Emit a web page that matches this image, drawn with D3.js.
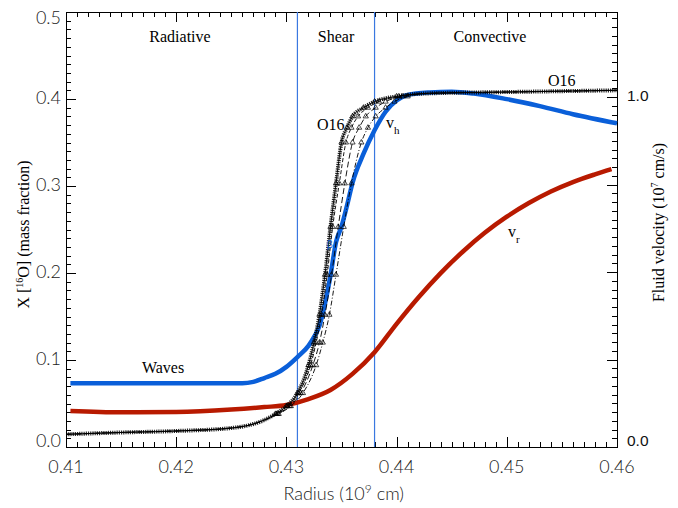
<!DOCTYPE html>
<html>
<head>
<meta charset="utf-8">
<script src="https://cdn.jsdelivr.net/npm/d3@7"></script>
<style>
body { margin: 0; background: #fff; }
svg { display: block; }
.num { font-family: Lato, "DejaVu Sans", sans-serif; font-weight: 300; font-size: 18px; fill: #222; }
.num-r { font-family: "Liberation Sans", Arial, sans-serif; font-size: 15.5px; fill: #111; }
.serif { font-family: "Liberation Serif", "Times New Roman", serif; fill: #000; }
</style>
</head>
<body>
<svg id="chart" width="678" height="508"></svg>
<script>
// tick labels
const radiusTicks = [0.41, 0.42, 0.43, 0.44, 0.45, 0.46];
const o16Ticks = [0.0, 0.1, 0.2, 0.3, 0.4, 0.5];
const velTicks = [0.0, 1.0];
const velMajor = [0.0, 0.25, 0.5, 0.75, 1.0];

// zone boundaries (radius, 1e9 cm)
const zoneBounds = [0.431, 0.438];

// O16 mass fraction, four runs (solid, dashed, long dash, dash-dot)
const o16Frac = [0.0146, 0.0167, 0.0184, 0.0218, 0.0264, 0.031, 0.038, 0.047, 0.062, 0.094, 0.120, 0.152, 0.198, 0.253, 0.303, 0.350, 0.367, 0.380, 0.390, 0.397, 0.403, 0.4065, 0.408, 0.409, 0.410];
const o16RadiusA = [0.4100, 0.4150, 0.4200, 0.4250, 0.4270, 0.4280, 0.4290, 0.4300, 0.4310, 0.4320, 0.4325, 0.4330, 0.4335, 0.4340, 0.4345, 0.4350, 0.4355, 0.4360, 0.4370, 0.4380, 0.4400, 0.4430, 0.4500, 0.4550, 0.4600];
const o16RadiusB = [0.4100, 0.4150, 0.4200, 0.4250, 0.4270, 0.4280, 0.4291, 0.4301, 0.4311, 0.4322, 0.4327, 0.4332, 0.4337, 0.4342, 0.4348, 0.4354, 0.4359, 0.4365, 0.4374, 0.4384, 0.4402, 0.4430, 0.4500, 0.4550, 0.4600];
const o16RadiusC = [0.4100, 0.4150, 0.4200, 0.4250, 0.4270, 0.4280, 0.4292, 0.4303, 0.4313, 0.4324, 0.4330, 0.4335, 0.4341, 0.4347, 0.4353, 0.4360, 0.4366, 0.4372, 0.4381, 0.4390, 0.4405, 0.4430, 0.4500, 0.4550, 0.4600];
const o16RadiusD = [0.4100, 0.4150, 0.4200, 0.4250, 0.4270, 0.4280, 0.4293, 0.4304, 0.4315, 0.4327, 0.4333, 0.4339, 0.4345, 0.4352, 0.4359, 0.4368, 0.4374, 0.4381, 0.4390, 0.4398, 0.4410, 0.4430, 0.4500, 0.4550, 0.4600];

// horizontal velocity v_h (blue), 1e7 cm/s
const vhRadius = [0.4104, 0.4260, 0.4270, 0.4280, 0.4290, 0.4300, 0.4310, 0.4320, 0.4325, 0.4330, 0.4335, 0.4340, 0.4345, 0.4350, 0.4355, 0.4360, 0.4370, 0.4380, 0.4390, 0.4400, 0.4410, 0.4430, 0.4450, 0.4470, 0.4500, 0.4530, 0.4560, 0.4600];
const vh = [0.182, 0.182, 0.186, 0.197, 0.209, 0.229, 0.257, 0.289, 0.314, 0.346, 0.410, 0.490, 0.585, 0.630, 0.690, 0.755, 0.838, 0.905, 0.958, 0.990, 1.006, 1.013, 1.015, 1.010, 0.994, 0.974, 0.951, 0.925];

// radial velocity v_r (red), 1e7 cm/s
const vrRadius = [0.4104, 0.4150, 0.4200, 0.4250, 0.4280, 0.4300, 0.4320, 0.4340, 0.4360, 0.4380, 0.4400, 0.4420, 0.4440, 0.4460, 0.4480, 0.4500, 0.4520, 0.4540, 0.4560, 0.4580, 0.4595];
const vr = [0.103, 0.099, 0.100, 0.107, 0.114, 0.120, 0.137, 0.163, 0.209, 0.271, 0.352, 0.428, 0.497, 0.558, 0.612, 0.658, 0.697, 0.730, 0.757, 0.779, 0.794];

const margin = {top: 12, right: 61, bottom: 61, left: 66};
const width = 678 - margin.left - margin.right;
const height = 508 - margin.top - margin.bottom;

const svg = d3.select("#chart");
const g = svg.append("g").attr("transform", `translate(${margin.left},${margin.top})`);

const x = d3.scaleLinear().domain([0.41, 0.46]).range([0, width]);
const yL = d3.scaleLinear().domain([0, 0.5]).range([height, 0]);
const yR = d3.scaleLinear().domain([0, 1.243]).range([height, 0]);

// ticks, all pointing inwards
const xMinor = d3.range(0.41, 0.4605, 0.001);
const yLMinor = d3.range(0, 0.5005, 0.01);
const yRMinor = d3.range(0, 1.243, 0.025);

function addTicks(axis, tr) {
    const a = g.append("g").attr("transform", tr).call(axis);
    a.select(".domain").remove();
    a.selectAll("line").attr("stroke", "#000").attr("shape-rendering", "crispEdges");
}
addTicks(d3.axisBottom(x).tickValues(xMinor).tickSize(-5).tickFormat(""), `translate(0,${height})`);
addTicks(d3.axisBottom(x).tickValues(radiusTicks).tickSize(-10).tickFormat(""), `translate(0,${height})`);
addTicks(d3.axisTop(x).tickValues(xMinor).tickSize(-5).tickFormat(""), "translate(0,0)");
addTicks(d3.axisTop(x).tickValues(radiusTicks).tickSize(-10).tickFormat(""), "translate(0,0)");
addTicks(d3.axisLeft(yL).tickValues(yLMinor).tickSize(-5).tickFormat(""), "translate(0,0)");
addTicks(d3.axisLeft(yL).tickValues(o16Ticks).tickSize(-10).tickFormat(""), "translate(0,0)");
addTicks(d3.axisRight(yR).tickValues(yRMinor).tickSize(-5).tickFormat(""), `translate(${width},0)`);
addTicks(d3.axisRight(yR).tickValues(velMajor).tickSize(-10).tickFormat(""), `translate(${width},0)`);

g.append("rect")
    .attr("width", width).attr("height", height)
    .attr("fill", "none").attr("stroke", "#000")
    .attr("shape-rendering", "crispEdges");

// tick labels
g.selectAll(".xl").data(radiusTicks).join("text")
    .attr("class", "num")
    .attr("x", d => x(d)).attr("y", height + 26)
    .attr("text-anchor", "middle")
    .text(d => d.toFixed(2));
g.selectAll(".yl").data(o16Ticks).join("text")
    .attr("class", "num")
    .attr("x", -5).attr("y", d => Math.max(Math.min(yL(d) + 5, height), 12))
    .attr("text-anchor", "end")
    .text(d => d.toFixed(1));
g.selectAll(".yr").data(velTicks).join("text")
    .attr("class", "num-r")
    .attr("x", width + 10).attr("y", d => Math.min(yR(d) + 4, height - 1))
    .text(d => d.toFixed(1));

// axis titles
g.append("text").attr("class", "num")
    .attr("x", x(0.4352)).attr("y", height + 53)
    .attr("text-anchor", "middle")
    .html('Radius (10<tspan dy="-7" font-size="12">9</tspan><tspan dy="7"> cm)</tspan>');
g.append("text").attr("class", "serif")
    .attr("font-size", 16)
    .attr("transform", `translate(-37,${height / 2 + 5}) rotate(-90)`)
    .attr("text-anchor", "middle")
    .html('X [<tspan dy="-6" font-size="10">16</tspan><tspan dy="6">O] (mass fraction)</tspan>');
g.append("text").attr("class", "serif")
    .attr("font-size", 16)
    .attr("transform", `translate(${width + 47},${height / 2 - 7}) rotate(-90)`)
    .attr("text-anchor", "middle")
    .html('Fluid velocity (10<tspan dy="-6" font-size="10">7</tspan><tspan dy="6"> cm/s)</tspan>');

// zone boundaries
g.selectAll(".zone").data(zoneBounds).join("line")
    .attr("x1", d => x(d)).attr("x2", d => x(d))
    .attr("y1", 0).attr("y2", height)
    .attr("stroke", "#3a78e0").attr("stroke-width", 1.2);

// zone names
g.append("text").attr("class", "serif").attr("font-size", 16)
    .attr("x", 114).attr("y", 30).attr("text-anchor", "middle").text("Radiative");
g.append("text").attr("class", "serif").attr("font-size", 16)
    .attr("x", 270).attr("y", 30).attr("text-anchor", "middle").text("Shear");
g.append("text").attr("class", "serif").attr("font-size", 16)
    .attr("x", 424).attr("y", 30).attr("text-anchor", "middle").text("Convective");

const lineL = d3.line().x(d => x(d[0])).y(d => yL(d[1])).curve(d3.curveMonotoneX);
const lineR = d3.line().x(d => x(d[0])).y(d => yR(d[1])).curve(d3.curveMonotoneX);

// velocities
g.append("path").datum(d3.zip(vrRadius, vr))
    .attr("fill", "none").attr("stroke", "#b81a00").attr("stroke-width", 4.5)
    .attr("d", lineR);
g.append("path").datum(d3.zip(vhRadius, vh))
    .attr("fill", "none").attr("stroke", "#0a5fd9").attr("stroke-width", 4.5)
    .attr("d", lineR);

// O16 runs
const runs = [
    {r: o16RadiusA, dash: null},
    {r: o16RadiusB, dash: "4,2"},
    {r: o16RadiusC, dash: "6,3"},
    {r: o16RadiusD, dash: "5,2,1,2"}
];
runs.forEach(run => {
    const pts = d3.zip(run.r, o16Frac);
    g.append("path").datum(pts)
        .attr("fill", "none").attr("stroke", "#000").attr("stroke-width", 0.9)
        .attr("stroke-dasharray", run.dash)
        .attr("d", lineL);
    g.append("g").selectAll("path").data(pts.slice(6, 21)).join("path")
        .attr("transform", d => `translate(${x(d[0])},${yL(d[1])})`)
        .attr("d", d3.symbol(d3.symbolTriangle, 12))
        .attr("fill", "none").attr("stroke", "#000").attr("stroke-width", 0.7);
});
// dense marker band of the first run
g.append("path").datum(d3.zip(o16RadiusA, o16Frac))
    .attr("fill", "none").attr("stroke", "#000").attr("stroke-width", 4)
    .attr("stroke-opacity", 0.85)
    .attr("stroke-dasharray", "1.2,1")
    .attr("d", lineL);

// curve labels
g.append("text").attr("class", "serif").attr("font-size", 16)
    .attr("x", 97).attr("y", 361).attr("text-anchor", "middle").text("Waves");
g.append("text").attr("class", "serif").attr("font-size", 16)
    .attr("x", 251).attr("y", 118).text("O16");
g.append("text").attr("class", "serif").attr("font-size", 16)
    .attr("x", 482).attr("y", 74).text("O16");
g.append("text").attr("class", "serif").attr("font-size", 16)
    .attr("x", 320).attr("y", 116)
    .html('v<tspan dy="6" font-size="11">h</tspan>');
g.append("text").attr("class", "serif").attr("font-size", 16)
    .attr("x", 442).attr("y", 225)
    .html('v<tspan dy="6" font-size="11">r</tspan>');
g.append("text").attr("font-family", "Liberation Sans, sans-serif").attr("font-size", 10)
    .attr("fill", "#0a5fd9")
    .attr("x", 261).attr("y", 236).text("β");
</script>
</body>
</html>
